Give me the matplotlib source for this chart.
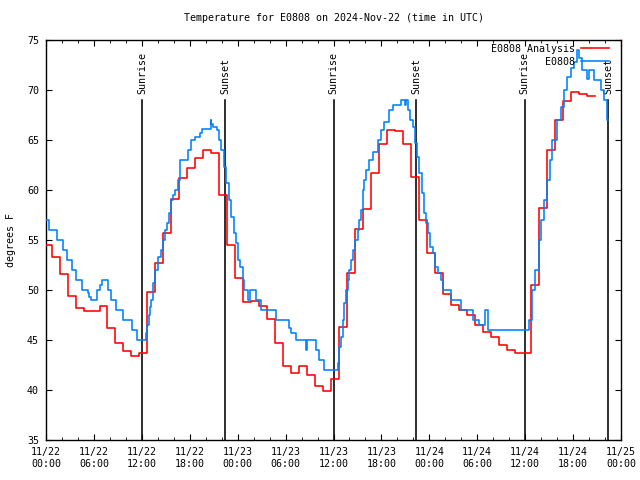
import numpy as np
import matplotlib
matplotlib.use("Agg")
import matplotlib.pyplot as plt
from matplotlib.ticker import MultipleLocator

# hours since 2024-11-22 00:00 UTC
tick_hours = [0, 6, 12, 18, 24, 30, 36, 42, 48, 54, 60, 66, 72]
tick_labels = ["11/22\n00:00", "11/22\n06:00", "11/22\n12:00", "11/22\n18:00",
               "11/23\n00:00", "11/23\n06:00", "11/23\n12:00", "11/23\n18:00",
               "11/24\n00:00", "11/24\n06:00", "11/24\n12:00", "11/24\n18:00",
               "11/25\n00:00"]

sunrise_h = [12.08, 36.04, 59.96]
sunset_h = [22.43, 46.35, 70.37]

# hourly analysis, first value starts at -0.3 h
red_t0 = -0.3
red_v = [54.5, 53.3, 51.6, 49.4, 48.2, 47.9, 47.9, 48.4, 46.2, 44.7, 43.9, 43.4, 43.7,
         49.8, 52.7, 55.7, 59.1, 61.2, 62.2, 63.2, 64.0, 63.7, 59.5, 54.5,
         51.2, 48.8, 48.9, 48.4, 47.1, 44.7, 42.4, 41.7, 42.4, 41.5, 40.4, 39.9, 41.1,
         46.3, 51.7, 56.1, 58.1, 61.7, 64.6, 66.0, 65.9, 64.6, 61.3, 57.0, 53.7, 51.7, 49.6,
         48.5, 48.0, 47.5, 46.5, 45.8, 45.3, 44.5, 44.0, 43.7, 43.7,
         50.5, 58.2, 64.0, 67.0, 68.9, 69.8, 69.6, 69.4]

# station obs (change points)
blue_t = [0.0, 0.375, 1.41, 2.09, 2.66, 3.21, 3.75, 4.5, 5.21, 5.44, 5.62, 6.41, 6.81, 7.04,
          7.71, 8.16, 8.75, 9.62, 10.71, 11.41, 12.5, 12.69, 12.85, 13.0, 13.16, 13.41, 13.71,
          14.04, 14.37, 14.66, 14.84, 15.16, 15.41, 15.71, 15.91, 16.21, 16.54, 16.75, 16.84,
          17.79, 18.21, 18.71, 19.25, 19.59, 20.62, 20.71, 20.87, 21.41, 21.66, 21.96, 22.25,
          22.59, 22.87, 23.21, 23.5, 23.75, 24.04, 24.34, 24.66, 24.75, 25.29, 25.59, 26.25,
          26.96, 28.75, 30.41, 30.71, 31.34, 32.5, 32.66, 33.84, 34.16, 34.87, 36.54, 36.75,
          36.96, 37.16, 37.37, 37.59, 37.79, 37.91, 38.21, 38.41, 38.75, 39.04, 39.25, 39.46,
          39.66, 39.87, 40.09, 40.5, 40.91, 41.54, 41.96, 42.37, 43.0, 43.5, 44.46, 45.0, 45.09,
          45.29, 45.59, 45.91, 46.25, 46.46, 46.75, 47.04, 47.37, 47.59, 47.87, 48.12, 48.41,
          48.75, 49.04, 49.46, 49.75, 50.75, 52.0, 53.5, 54.25, 55.0, 55.4, 60.5, 60.9, 61.25,
          61.75, 61.96, 62.37, 62.79, 63.09, 63.41, 64.04, 64.46, 64.87, 65.29, 65.71, 66.12,
          66.54, 66.75, 67.16, 67.79, 68.0, 68.62, 69.46, 69.87, 70.29, 70.4]
blue_v = [57, 56, 55, 54, 53, 52, 51, 50, 49.7, 49.3, 49, 50, 50.5, 51,
          50, 49, 48, 47, 46, 45, 45.7, 46.5, 47.5, 48.3, 49, 50.7, 52,
          53.3, 54, 55, 56, 56.7, 57.7, 59, 59.5, 60, 61, 62, 63,
          64, 65, 65.3, 65.7, 66.1, 67, 66.6, 66.3, 66, 65, 64, 62.3,
          60.7, 59, 57.3, 55.7, 54.7, 53, 52.3, 51, 50, 49, 50, 49,
          48, 47, 46.2, 45.7, 45, 44, 45, 44, 43, 42, 42.7, 44.3,
          45.3, 47, 48.7, 50, 51, 52, 53, 54, 55, 56, 57, 58,
          60, 61, 62, 63, 63.8, 65, 66, 66.8, 68, 68.5, 69, 68.5, 69,
          68, 67, 66.3, 64.7, 63.3, 61.7, 59.7, 57.7, 56.7, 55.7, 54.3, 53.7,
          52.3, 51.7, 51, 50, 49, 48, 47, 46.5, 48, 46, 47, 50, 52,
          55, 57, 59, 61, 63, 65, 67, 68.3, 70, 71.3, 72.2, 72.8,
          74, 73.2, 72, 71.1, 72, 71, 70, 69, 67, 67]

mono = "DejaVu Sans Mono"
fs = 7.2
plt.rcParams["font.family"] = mono
plt.rcParams["font.size"] = fs

fig = plt.figure(figsize=(6.4, 4.8), dpi=100)
ax = fig.add_axes([46 / 640, 40 / 480, 575 / 640, 400 / 480])

red_t = red_t0 + np.arange(len(red_v) + 1)
ax.plot(red_t, red_v + [red_v[-1]], drawstyle="steps-post", color="#ff0000",
        lw=1.15, label="E0808 Analysis", zorder=3)
ax.plot(blue_t, blue_v, drawstyle="steps-post", color="#0080ff",
        lw=1.15, label="E0808", zorder=4)

for h in sunrise_h:
    ax.plot([h, h], [35, 69], color="black", lw=1.15, zorder=2)
    ax.text(h, 69.6, "Sunrise", rotation=90, ha="center", va="bottom", fontsize=fs)
for h in sunset_h:
    ax.plot([h, h], [35, 69], color="black", lw=1.15, zorder=2)
    ax.text(h, 69.6, "Sunset", rotation=90, ha="center", va="bottom", fontsize=fs)

ax.set_xlim(0, 72)
ax.set_ylim(35, 75)
ax.set_xticks(tick_hours)
ax.set_xticklabels(tick_labels)
ax.xaxis.set_minor_locator(MultipleLocator(2))
ax.set_yticks(np.arange(35, 76, 5))
ax.tick_params(which="both", direction="in", top=True, right=True, labelsize=fs, pad=5)
ax.tick_params(which="major", length=4)
ax.tick_params(which="minor", length=2.5)
for s in ax.spines.values():
    s.set_linewidth(1.0)

ax.set_ylabel("degrees F", fontsize=fs, labelpad=8)
ax.set_title("Temperature for E0808 on 2024-Nov-22 (time in UTC)", fontsize=fs, pad=14)

ax.legend(loc="upper right", bbox_to_anchor=(0.986, 1.0), frameon=False,
          markerfirst=False, fontsize=fs, handlelength=2.8, handletextpad=0.6,
          labelspacing=0.3, borderaxespad=0.2, borderpad=0.2)

fig.savefig("out.png", dpi=100)
